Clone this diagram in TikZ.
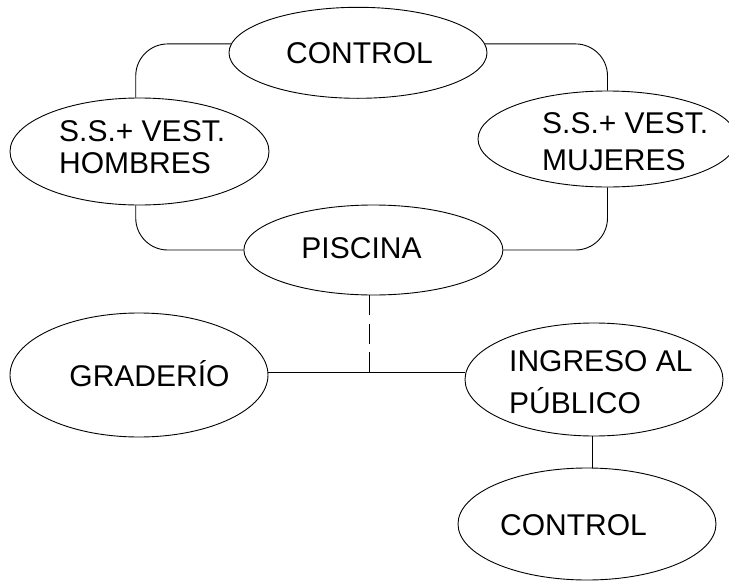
\documentclass[tikz,border=0pt]{standalone}
\usepackage{fontspec}
\setmainfont{Liberation Sans}
\usetikzlibrary{shapes.geometric}
\tikzset{
  ell/.style={draw, ellipse, inner sep=0pt, line width=0.9pt},
  txt/.style={inner sep=0pt, align=left, font=\fontsize{30}{36}\selectfont},
  conn/.style={draw, line width=0.9pt, rounded corners=32pt},
  dashconn/.style={draw, line width=0.9pt, dash pattern=on 20pt off 8.5pt}
}
\begin{document}
\begin{tikzpicture}[x=1pt, y=-1pt]
\useasboundingbox (0,0) rectangle (729,581);
% ellipses
\node[ell, minimum width=258pt, minimum height=91pt]  (ctrlA) at (358,52.8) {};
\node[ell, minimum width=259pt, minimum height=107pt] (hom)   at (139.5,151.5) {};
\node[ell, minimum width=259pt, minimum height=96pt]  (muj)   at (607.5,139) {};
\node[ell, minimum width=259pt, minimum height=90pt]  (pis)   at (373.4,250) {};
\node[ell, minimum width=258pt, minimum height=124pt] (grad)  at (139,375) {};
\node[ell, minimum width=258pt, minimum height=113pt] (ing)   at (594,379.5) {};
\node[ell, minimum width=258pt, minimum height=112pt] (ctrlB) at (587,524) {};
% texts (multi-line nodes: base anchor = last line's baseline)
\node[txt, anchor=base] (tA) at (359.5,63.3) {CONTROL};
\node[txt, anchor=base west, font=\fontsize{30}{31.6}\selectfont] (tHom) at (59,173.3) {S.S.+ VEST.\\HOMBRES};
\node[txt, anchor=base west, font=\fontsize{30}{36.7}\selectfont] (tMuj) at (542,170) {S.S.+ VEST.\\MUJERES};
\node[txt, anchor=base] (tPis) at (361.5,258.3) {PISCINA};
\node[txt, anchor=base] (tGrad) at (149.5,386.7) {GRADERÍO};
\node[txt, anchor=base west, font=\fontsize{30}{41.6}\selectfont] (tIng) at (509,413.3) {INGRESO AL\\PÚBLICO};
\node[txt, anchor=base] (tB) at (573.5,535) {CONTROL};
% connectors
\coordinate (j) at (369.5,372.7);
\path[conn] (ctrlA.176) -| (hom.94);
\path[conn] (ctrlA.4) -| (muj.north);
\path[conn] (hom.266) |- (pis.west);
\path[conn] (muj.south) |- (pis.east);
\path[dashconn] (pis.south -| j) -- (j);
\draw[line width=0.9pt] (grad.east |- j) -- (j) -- (ing.west |- j);
\draw[line width=0.9pt] (ing.268) -- (ing.268 |- ctrlB.north);
\end{tikzpicture}
\end{document}
